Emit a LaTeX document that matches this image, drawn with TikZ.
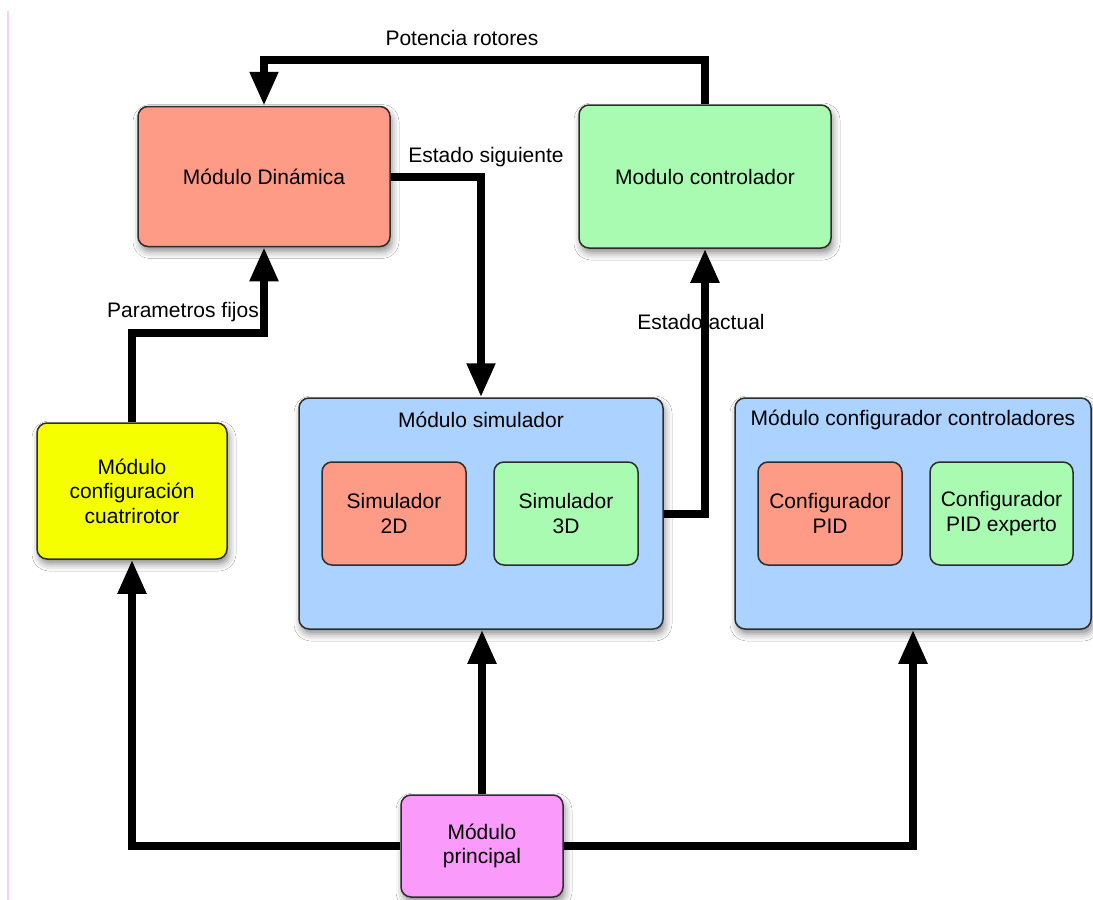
\documentclass[tikz,border=0pt]{standalone}
\usepackage{fontspec}
\setmainfont{Liberation Sans}
\usetikzlibrary{arrows.meta,shadows.blur}
\definecolor{salmon}{RGB}{254,155,135}
\definecolor{mint}{RGB}{168,251,177}
\definecolor{skyblue}{RGB}{172,210,255}
\definecolor{lemon}{RGB}{245,255,0}
\definecolor{orchid}{RGB}{250,154,250}
\definecolor{boxline}{RGB}{45,45,45}
\definecolor{marginline}{RGB}{250,205,250}
\begin{document}
\begin{tikzpicture}[x=1pt,y=-1pt,
  every node/.style={font=\fontsize{21}{24.5}\selectfont},
  box/.style={draw=boxline, line width=1.5pt, rounded corners=10pt, align=center, inner sep=0pt},
  shadowed/.style={blur shadow={shadow xshift=2pt, shadow yshift=-5pt, shadow blur radius=7pt, shadow opacity=45}},
  link/.style={line width=8pt, -{Triangle[length=34pt,width=27pt]}},
  lbl/.style={inner sep=1pt}]
  \useasboundingbox[fill=white] (0,0) rectangle (1093,900);
  \draw[marginline, line width=1.5pt] (8,11) -- (8,900);

  % main modules
  \node[box, shadowed, fill=salmon, minimum width=252pt, minimum height=140pt] (din) at (264,176.5) {Módulo Dinámica};
  \node[box, shadowed, fill=mint, minimum width=252pt, minimum height=143pt] (ctl) at (705,176.5) {Modulo controlador};
  \node[box, shadowed, fill=skyblue, minimum width=364pt, minimum height=231pt] (sim) at (481,513.5) {};
  \node[box, shadowed, fill=skyblue, minimum width=356pt, minimum height=231pt] (cfg) at (913,513.5) {};
  \node[box, shadowed, fill=lemon, minimum width=190pt, minimum height=136pt] (yel) at (132,491) {Módulo\\configuración\\cuatrirotor};
  \node[box, shadowed, fill=orchid, minimum width=162pt, minimum height=102pt] (pri) at (482,846) {Módulo\\principal};

  % group titles
  \node (simt) at (481,420) {Módulo simulador};
  \node (cfgt) at (913,420) {Módulo configurador controladores};

  % sub-modules
  \node[box, fill=salmon, minimum width=144pt, minimum height=103pt] (s2d) at (394,513.5) {Simulador\\2D};
  \node[box, fill=mint, minimum width=144pt, minimum height=103pt] (s3d) at (566,513.5) {Simulador\\3D};
  \node[box, fill=salmon, minimum width=144pt, minimum height=103pt] (pid) at (830,513.5) {Configurador\\PID};
  \node[box, fill=mint, minimum width=143pt, minimum height=103pt] (pex) at (1001.5,513.5) {Configurador\\PID experto};

  % connector labels
  \node[lbl] (lpr) at (462,38) {Potencia rotores};
  \node[lbl] (les) at (486,157) {Estado siguiente};
  \node[lbl] (lpf) at (183,312) {Parametros fijos};
  \node[lbl] (lea) at (701,322) {Estado actual};

  % connectors
  \coordinate (toprow) at (0,60);
  \coordinate (pfrow) at (0,333);
  \draw[link] (ctl.north) -- (ctl.north |- toprow) -| (din.north);
  \draw[link] (din.east) -| (sim.north);
  \draw[link] (yel.north) -- (yel.north |- pfrow) -| (din.south);
  \draw[link] (sim.east) -| (ctl.south);
  \draw[link] (pri.west) -| (yel.south);
  \draw[link] (pri.north) -- (pri.north |- sim.south);
  \draw[link] (pri.east) -| (cfg.south);
\end{tikzpicture}
\end{document}
